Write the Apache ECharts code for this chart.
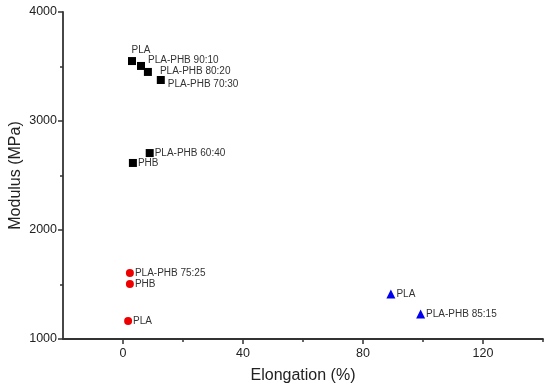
<!DOCTYPE html>
<html>
<head>
<meta charset="utf-8">
<script src="https://cdn.jsdelivr.net/npm/echarts@6/dist/echarts.min.js"></script>
<style>html,body{margin:0;padding:0;background:#fff}#c{width:550px;height:390px}</style>
</head>
<body>
<div id="c"></div>
<script>
// Black squares group
var sqNames = ['PLA', 'PLA-PHB 90:10', 'PLA-PHB 80:20', 'PLA-PHB 70:30', 'PLA-PHB 60:40', 'PHB'];
var sqX = [3.0, 6.0, 8.3, 12.6, 8.9, 3.3];
var sqY = [3550, 3505, 3450, 3376, 2706, 2615];
// Red circles group
var ciNames = ['PLA-PHB 75:25', 'PHB', 'PLA'];
var ciX = [2.3, 2.3, 1.7];
var ciY = [1606, 1505, 1165];
// Blue triangles group
var trNames = ['PLA', 'PLA-PHB 85:15'];
var trX = [89.3, 99.2];
var trY = [1413, 1229];
// Axis ticks
var xTicks = [0, 40, 80, 120];
var xMinorTicks = [20, 60, 100, 140];
var yTicks = [1000, 2000, 3000, 4000];

function build(names, xs, ys, offsets) {
  return names.map(function (n, i) {
    var item = { value: [xs[i], ys[i]], name: n };
    if (offsets && offsets[i]) item.label = offsets[i];
    return item;
  });
}
var sqLabelCfg = [
  { position: 'top', distance: 2, offset: [9, 0] },
  { position: 'right', offset: [2, -6] },
  { position: 'right', offset: [7, -1] },
  { position: 'right', offset: [2, 4] },
  null,
  null
];
var labelBase = { show: true, position: 'right', distance: 1, formatter: '{b}', color: '#333', fontFamily: 'Liberation Sans', fontSize: 10 };
var font = 'Liberation Sans';
function plain(v) { return String(v); }

var chart = echarts.init(document.getElementById('c'), null, { renderer: 'canvas' });
chart.setOption({
  animation: false,
  backgroundColor: '#fff',
  grid: { left: 63, right: 7, top: 12, bottom: 51, containLabel: false, outerBoundsMode: 'none' },
  xAxis: [{
    type: 'value', min: -20, max: 140, interval: 20,
    name: 'Elongation (%)', nameLocation: 'middle', nameGap: 29, nameMoveOverlap: false,
    nameTextStyle: { fontFamily: font, fontSize: 16, color: '#222' },
    axisLine: { show: true, onZero: false, lineStyle: { color: '#333', width: 1.8 } },
    axisTick: { show: true, length: 5, customValues: xTicks, lineStyle: { color: '#333', width: 1.5 } },
    axisLabel: { margin: 8, fontFamily: font, fontSize: 12.5, color: '#222', customValues: xTicks, formatter: plain },
    splitLine: { show: false }
  }, {
    type: 'value', min: -20, max: 140, interval: 20, position: 'bottom',
    axisLine: { show: false, onZero: false },
    axisTick: { show: true, length: 3, customValues: xMinorTicks, lineStyle: { color: '#333', width: 1.5 } },
    axisLabel: { show: false },
    splitLine: { show: false }
  }],
  yAxis: {
    type: 'value', min: 1000, max: 4000, interval: 1000,
    name: 'Modulus (MPa)', nameLocation: 'middle', nameGap: 39, nameRotate: 90, nameMoveOverlap: false,
    nameTextStyle: { fontFamily: font, fontSize: 16, color: '#222' },
    axisLine: { show: true, onZero: false, lineStyle: { color: '#333', width: 1.8 } },
    axisTick: { show: true, length: 5, lineStyle: { color: '#333', width: 1.5 } },
    minorTick: { show: true, splitNumber: 2, length: 3, lineStyle: { color: '#333', width: 1.5 } },
    axisLabel: { margin: 6, fontFamily: font, fontSize: 12.5, color: '#222', customValues: yTicks, formatter: plain },
    splitLine: { show: false }
  },
  series: [
    { type: 'scatter', symbol: 'rect', symbolSize: 8, itemStyle: { color: '#000', opacity: 1 },
      label: labelBase, data: build(sqNames, sqX, sqY, sqLabelCfg) },
    { type: 'scatter', symbol: 'circle', symbolSize: 8, itemStyle: { color: '#ee0000', opacity: 1 },
      label: labelBase, data: build(ciNames, ciX, ciY) },
    { type: 'scatter', symbol: 'triangle', symbolSize: 9, itemStyle: { color: '#0000ee', opacity: 1 },
      label: labelBase, data: build(trNames, trX, trY) }
  ]
});
</script>
</body>
</html>
